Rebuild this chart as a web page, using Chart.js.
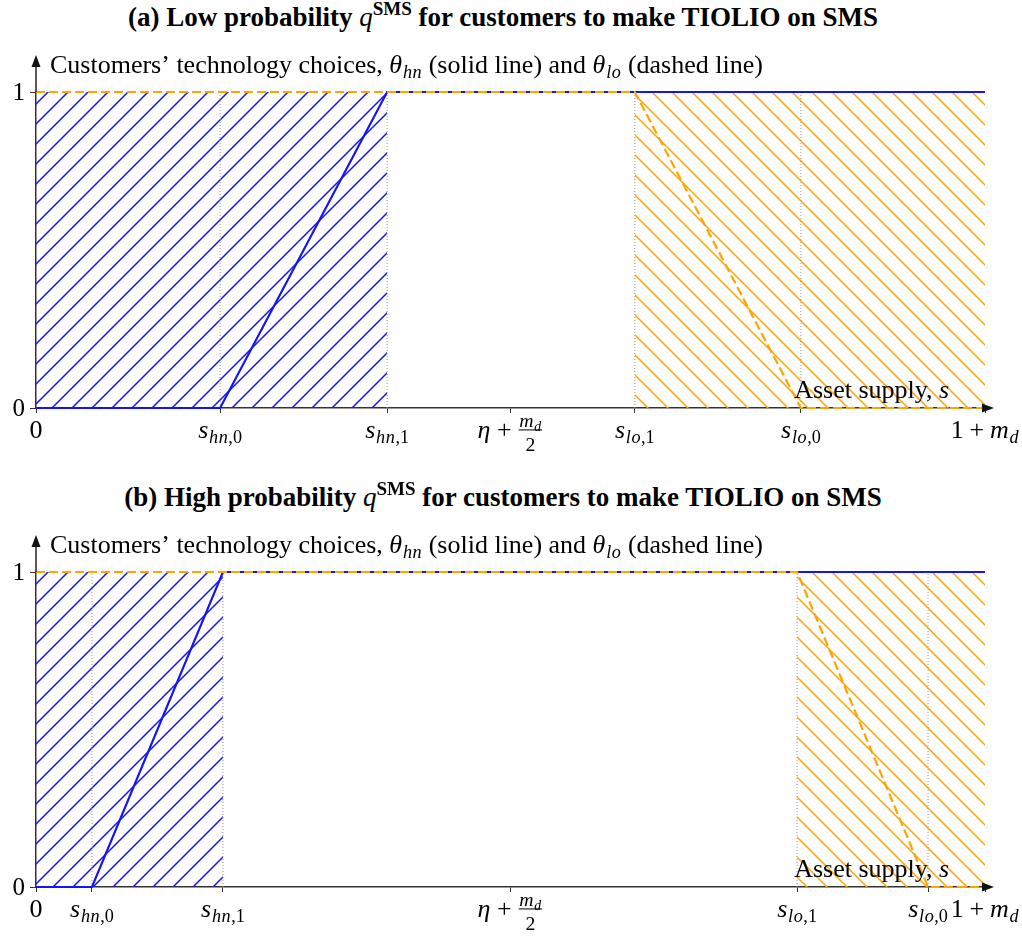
<!DOCTYPE html>
<html>
<head>
<meta charset="utf-8">
<script src="https://cdn.jsdelivr.net/npm/chart.js@4.4.1/dist/chart.umd.min.js"></script>
<style>
  body { margin: 0; background: #fff; }
  #wrap { position: relative; width: 1022px; height: 937px; }
  canvas { position: absolute; left: 0; }
  .title {
    position: absolute; left: 0; width: 1006px; text-align: center;
    font: bold 27px/27px "Liberation Serif", "Times New Roman", serif; color: #000;
    white-space: nowrap;
  }
  .title i { font-weight: normal; }
  .title sup { font-size: 19px; vertical-align: baseline; position: relative; top: -11px; }
</style>
</head>
<body>
<div id="wrap">
  <div class="title" style="top:4px">(a) Low probability <i>q</i><sup>SMS</sup> for customers to make TIOLIO on SMS</div>
  <canvas id="chartA" width="1022" height="480" style="top:0"></canvas>
  <div class="title" style="top:484px">(b) High probability <i>q</i><sup>SMS</sup> for customers to make TIOLIO on SMS</div>
  <canvas id="chartB" width="1022" height="457" style="top:480px"></canvas>
</div>
<script>
// Axis is normalised: 0 = left end, 1 = 1 + m_d

// panel (a) low probability
const hnXA = [0, 0.194, 0.370, 1];
const loXA = [0, 0.631, 0.806, 1];
const xTicksA = [0, 0.194, 0.370, 0.5, 0.631, 0.806, 1];

// panel (b) high probability
const hnXB = [0, 0.059, 0.197, 1];
const loXB = [0, 0.802, 0.940, 1];
const xTicksB = [0, 0.059, 0.197, 0.5, 0.802, 0.940, 1];

// theta values at those x points
const hnY = [0, 0, 1, 1];
const loY = [1, 1, 0, 0];

const xTickLabels = ['$0$', '$s_{hn,0}$', '$s_{hn,1}$', '$\\eta+\\frac{m_d}{2}$', '$s_{lo,1}$', '$s_{lo,0}$', '$1+m_d$'];
const yTicks = [0, 1];
const yTickLabels = ['0', '1'];
const yTitle = 'Customers\u2019 technology choices, $\\theta_{hn}$ (solid line) and $\\theta_{lo}$ (dashed line)';
const xTitle = 'Asset supply, $s$';

const BLUE = '#1414f5';
const ORANGE = '#ffa500';
const SERIF = '"Liberation Serif", "Times New Roman", serif';
const GREEK = { eta: '\u03b7', theta: '\u03b8' };

// --- tiny TeX-ish text renderer ---
function parseMath(src) {
  const out = [];
  let i = 0;
  function group() {
    if (src[i] === '{') {
      let depth = 1, j = i + 1;
      while (depth) { if (src[j] === '{') depth++; else if (src[j] === '}') depth--; j++; }
      const inner = src.slice(i + 1, j - 1);
      i = j;
      return parseMath(inner);
    }
    const ch = src[i]; i++;
    return parseMath(ch);
  }
  while (i < src.length) {
    const ch = src[i];
    if (ch === '\\') {
      const m = /^\\([a-zA-Z]+)/.exec(src.slice(i));
      i += m[0].length;
      if (m[1] === 'frac') {
        const num = group(); const den = group();
        out.push({ k: 'frac', num, den });
      } else {
        out.push({ k: 'sym', s: GREEK[m[1]], italic: true });
      }
    } else if (ch === '_') { i++; out.push({ k: 'sub', body: group() }); }
    else if (ch === '^') { i++; out.push({ k: 'sup', body: group() }); }
    else if (ch === ' ') { i++; }
    else if (ch === '+') { i++; out.push({ k: 'op', s: '+' }); }
    else { i++; out.push({ k: 'sym', s: ch, italic: /[a-zA-Z]/.test(ch) }); }
  }
  return out;
}

function parseText(str) {
  const parts = str.split('$');
  let nodes = [];
  parts.forEach((p, idx) => {
    if (!p) return;
    if (idx % 2) nodes = nodes.concat(parseMath(p));
    else nodes.push({ k: 'sym', s: p, italic: false });
  });
  return nodes;
}

function fontFor(size, italic) {
  return (italic ? 'italic ' : '') + size + 'px ' + SERIF;
}

function renderNodes(ctx, nodes, size, x, y, draw) {
  let cx = x;
  for (const n of nodes) {
    if (n.k === 'sym') {
      ctx.font = fontFor(size, n.italic);
      const w = ctx.measureText(n.s).width;
      if (draw) ctx.fillText(n.s, cx, y);
      cx += w + (n.italic ? size * 0.03 : 0);
    } else if (n.k === 'op') {
      const pad = size * 0.22;
      ctx.font = fontFor(size, false);
      const w = ctx.measureText('+').width;
      if (draw) ctx.fillText('+', cx + pad, y);
      cx += w + 2 * pad;
    } else if (n.k === 'sub') {
      cx += renderNodes(ctx, n.body, size * 0.7, cx, y + size * 0.2, draw);
    } else if (n.k === 'sup') {
      cx += renderNodes(ctx, n.body, size * 0.7, cx, y - size * 0.38, draw);
    } else if (n.k === 'frac') {
      const fs = size * 0.76;
      const wn = renderNodes(ctx, n.num, fs, 0, 0, false);
      const wd = renderNodes(ctx, n.den, fs, 0, 0, false);
      const w = Math.max(wn, wd) + size * 0.15;
      if (draw) {
        renderNodes(ctx, n.num, fs, cx + (w - wn) / 2, y - size * 0.44, true);
        renderNodes(ctx, n.den, fs, cx + (w - wd) / 2, y + size * 0.5, true);
        ctx.fillRect(cx + size * 0.05, y - size * 0.33, w - size * 0.1, 1);
      }
      cx += w;
    }
  }
  return cx - x;
}

function drawRich(ctx, str, size, x, y, align) {
  const nodes = parseText(str);
  ctx.save();
  ctx.textAlign = 'left';
  ctx.textBaseline = 'alphabetic';
  ctx.fillStyle = '#000';
  const w = renderNodes(ctx, nodes, size, 0, 0, false);
  let sx = x;
  if (align === 'center') sx = x - w / 2;
  if (align === 'right') sx = x - w;
  renderNodes(ctx, nodes, size, sx, y, true);
  ctx.restore();
}

// --- hatch patterns ---
function makeHatch(color, forward) {
  const size = 20;
  const c = document.createElement('canvas');
  c.width = size; c.height = size;
  const g = c.getContext('2d');
  g.strokeStyle = color;
  g.lineWidth = 1.5;
  g.beginPath();
  if (forward) {
    g.moveTo(-3, size + 3); g.lineTo(size + 3, -3);
    g.moveTo(-3, 3); g.lineTo(3, -3);
    g.moveTo(size - 3, size + 3); g.lineTo(size + 3, size - 3);
  } else {
    g.moveTo(-3, -3); g.lineTo(size + 3, size + 3);
    g.moveTo(size - 3, -3); g.lineTo(size + 3, 3);
    g.moveTo(-3, size - 3); g.lineTo(3, size + 3);
  }
  g.stroke();
  return g.createPattern(c, 'repeat');
}

// arrows, tick labels and axis captions
const decorPlugin = {
  id: 'decor',
  afterDraw(chart, args, opts) {
    const { ctx, chartArea: a, scales: { x, y } } = chart;
    ctx.save();
    ctx.strokeStyle = '#222';
    ctx.fillStyle = '#111';
    ctx.lineWidth = 1.5;
    // y arrow
    const tipY = a.top - 37;
    ctx.beginPath(); ctx.moveTo(a.left, a.top); ctx.lineTo(a.left, tipY + 8); ctx.stroke();
    ctx.beginPath(); ctx.moveTo(a.left, tipY); ctx.lineTo(a.left - 4.5, tipY + 12); ctx.lineTo(a.left + 4.5, tipY + 12); ctx.closePath(); ctx.fill();
    // x arrow
    const tipX = a.right + 9;
    ctx.beginPath(); ctx.moveTo(a.right, a.bottom); ctx.lineTo(tipX - 8, a.bottom); ctx.stroke();
    ctx.beginPath(); ctx.moveTo(tipX, a.bottom); ctx.lineTo(tipX - 12, a.bottom - 4.5); ctx.lineTo(tipX - 12, a.bottom + 4.5); ctx.closePath(); ctx.fill();
    ctx.restore();

    opts.xTicks.forEach((v, i) => {
      drawRich(ctx, opts.xLabels[i], 26, x.getPixelForValue(v), a.bottom + 30, 'center');
    });
    yTicks.forEach((v, i) => {
      drawRich(ctx, yTickLabels[i], 25, 25, y.getPixelForValue(v) + 8, 'right');
    });
    drawRich(ctx, yTitle, 26, a.left + 14, a.top - 19, 'left');
    drawRich(ctx, xTitle, 26, a.right - 35, a.bottom - 10, 'right');
  }
};

function pts(xs, ys) {
  return xs.map((v, i) => ({ x: v, y: ys[i] }));
}

function buildChart(id, hnX, loX, xTicks, bottomPad) {
  const ctx = document.getElementById(id).getContext('2d');
  const guides = [hnX[1], hnX[2], loX[1], loX[2]].map(g => ({
    data: [{ x: g, y: 0 }, { x: g, y: 1 }],
    borderColor: '#9a9a9a', borderWidth: 1, borderDash: [1, 2],
    pointRadius: 0, fill: false, order: 3, clip: false
  }));
  return new Chart(ctx, {
    type: 'line',
    data: {
      datasets: [
        {
          // theta_lo, dashed
          data: pts(loX, loY),
          borderColor: ORANGE, borderWidth: 2.2, borderDash: [9, 4],
          pointRadius: 0, fill: false, order: 0, clip: false
        },
        {
          // theta_hn, solid
          data: pts(hnX, hnY),
          borderColor: BLUE, borderWidth: 2.2,
          pointRadius: 0, fill: false, order: 1, clip: false
        },
        ...guides,
        {
          data: [{ x: 0, y: 1 }, { x: hnX[2], y: 1 }],
          borderWidth: 0, pointRadius: 0, fill: 'origin',
          backgroundColor: makeHatch(BLUE, true), order: 5
        },
        {
          data: [{ x: loX[1], y: 1 }, { x: 1, y: 1 }],
          borderWidth: 0, pointRadius: 0, fill: 'origin',
          backgroundColor: makeHatch(ORANGE, false), order: 5
        }
      ]
    },
    options: {
      responsive: false,
      animation: false,
      events: [],
      layout: { padding: { left: 36, right: 37, top: 92, bottom: bottomPad } },
      plugins: {
        legend: { display: false },
        tooltip: { enabled: false },
        decor: { xTicks: xTicks, xLabels: xTickLabels }
      },
      scales: {
        x: {
          type: 'linear', min: 0, max: 1,
          afterBuildTicks: s => { s.ticks = xTicks.map(v => ({ value: v })); },
          afterFit: s => { s.height = 0; },
          ticks: { display: false },
          grid: { drawOnChartArea: false, tickLength: 5, color: '#333', lineWidth: 1 },
          border: { color: '#333', width: 1.5 }
        },
        y: {
          type: 'linear', min: 0, max: 1,
          afterBuildTicks: s => { s.ticks = yTicks.map(v => ({ value: v })); },
          afterFit: s => { s.width = 0; },
          ticks: { display: false },
          grid: { drawOnChartArea: false, tickLength: 6, color: '#333', lineWidth: 1 },
          border: { color: '#333', width: 1.5 }
        }
      }
    },
    plugins: [decorPlugin]
  });
}

buildChart('chartA', hnXA, loXA, xTicksA, 72);
buildChart('chartB', hnXB, loXB, xTicksB, 50);
</script>
</body>
</html>
